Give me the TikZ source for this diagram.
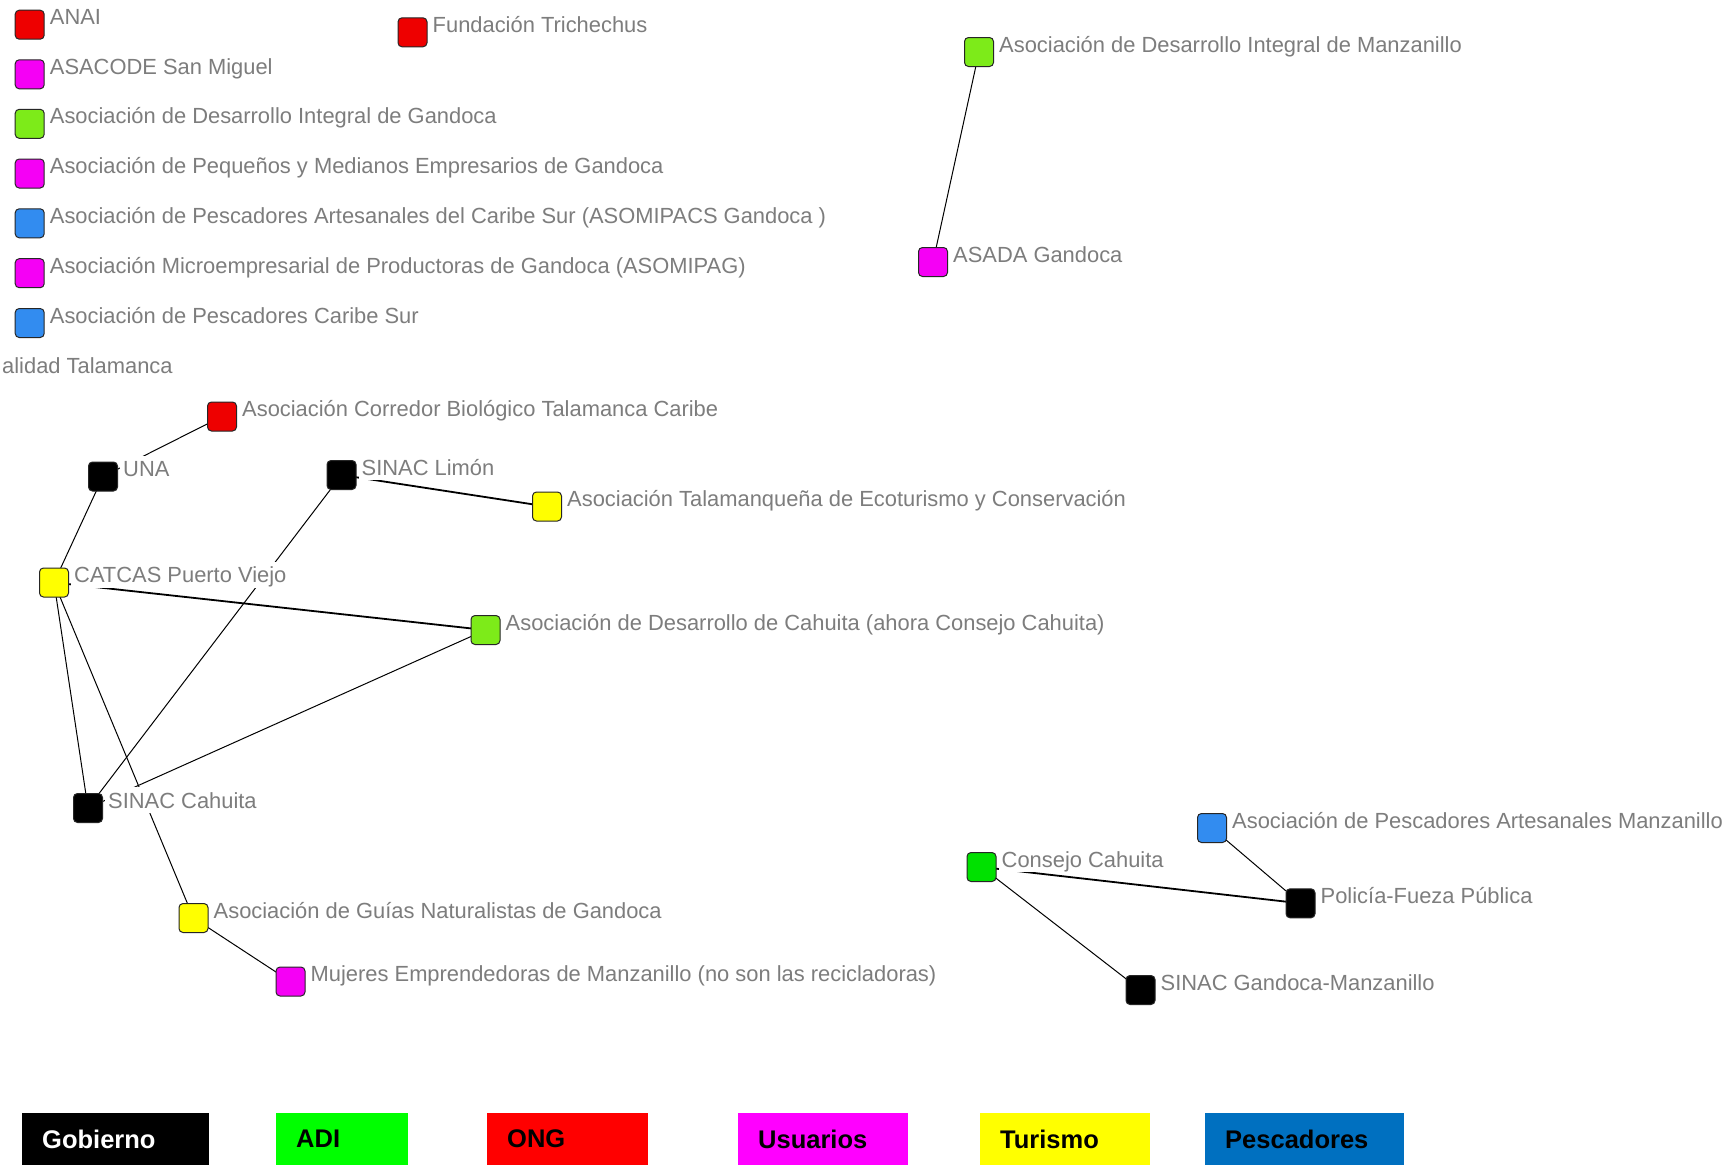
\documentclass[tikz,border=0pt]{standalone}
\usepackage{fontspec}
\setmainfont{Liberation Sans}
\usetikzlibrary{backgrounds}

\definecolor{labelgray}{RGB}{125,125,125}
\definecolor{ongred}{RGB}{238,0,0}
\definecolor{usrmag}{RGB}{245,0,245}
\definecolor{adilime}{RGB}{125,235,25}
\definecolor{adigreen}{RGB}{0,225,0}
\definecolor{pescblue}{RGB}{50,140,240}
\definecolor{turyellow}{RGB}{255,255,0}
\definecolor{keyblue}{RGB}{0,112,192}

\tikzset{
  actor/.style={draw=black!85, line width=1pt, rounded corners=4pt, fill=#1,
    minimum width=29pt, minimum height=29pt, inner sep=0pt},
  lbl/.style={fill=white, text=labelgray, font=\fontsize{21.9}{26}\selectfont,
    text height=20pt, text depth=4pt, inner xsep=3pt, inner ysep=1pt, anchor=base west},
  tie/.style={line width=1pt},
  strongtie/.style={line width=1.8pt},
  key/.style={anchor=north west, minimum height=52pt, inner xsep=20pt, align=left,
    text width=#1, font=\bfseries\fontsize{25.5}{30}\selectfont}
}

\begin{document}
\begin{tikzpicture}[x=1pt,y=-1pt,label distance=2pt]
  \useasboundingbox (0,0) rectangle (1733,1165);
  % isolated actors
  \node[actor=ongred, label={[lbl]east:ANAI}] (anai) at (29.7,24.7) {};
  \node[actor=ongred, label={[lbl]east:Fundación Trichechus}] (trichechus) at (412.5,32.3) {};
  \node[actor=usrmag, label={[lbl]east:ASACODE San Miguel}] (asacode) at (29.7,74.3) {};
  \node[actor=adilime, label={[lbl]east:Asociación de Desarrollo Integral de Gandoca}] (adigandoca) at (29.7,123.8) {};
  \node[actor=usrmag, label={[lbl]east:Asociación de Pequeños y Medianos Empresarios de Gandoca}] (pyme) at (29.7,173.5) {};
  \node[actor=pescblue, label={[lbl]east:Asociación de Pescadores Artesanales del Caribe Sur (ASOMIPACS Gandoca )}] (asomipacs) at (29.7,223.3) {};
  \node[actor=usrmag, label={[lbl]east:Asociación Microempresarial de Productoras de Gandoca (ASOMIPAG)}] (asomipag) at (29.7,273.2) {};
  \node[actor=pescblue, label={[lbl]east:Asociación de Pescadores Caribe Sur}] (pesccs) at (29.7,323) {};
  \node[lbl, inner xsep=0pt] (municipio) at (2,373) {alidad Talamanca};

  % Manzanillo pair
  \node[actor=adilime, label={[lbl]east:Asociación de Desarrollo Integral de Manzanillo}] (adimanz) at (979,52) {};
  \node[actor=usrmag, label={[lbl]east:ASADA Gandoca}] (asada) at (933,262) {};

  % Cahuita / Puerto Viejo group
  \node[actor=ongred, label={[lbl]east:Asociación Corredor Biológico Talamanca Caribe}] (corredor) at (222,416.5) {};
  \node[actor=black, label={[lbl]east:UNA}] (una) at (103,476.5) {};
  \node[actor=black, label={[lbl]east:SINAC Limón}] (sinaclimon) at (341.5,475) {};
  \node[actor=turyellow, label={[lbl]east:Asociación Talamanqueña de Ecoturismo y Conservación}] (atec) at (547,506.5) {};
  \node[actor=turyellow, label={[lbl]east:CATCAS Puerto Viejo}] (catcas) at (54,582.5) {};
  \node[actor=adilime, label={[lbl]east:Asociación de Desarrollo de Cahuita (ahora Consejo Cahuita)}] (adc) at (485.5,630) {};
  \node[actor=black, label={[lbl]east:SINAC Cahuita}] (sinaccahuita) at (88,808) {};
  \node[actor=turyellow, label={[lbl]east:Asociación de Guías Naturalistas de Gandoca}] (guias) at (193.5,918) {};
  \node[actor=usrmag, label={[lbl]east:Mujeres Emprendedoras de Manzanillo (no son las recicladoras)}] (mujeres) at (290.5,981.5) {};

  % Consejo Cahuita group
  \node[actor=pescblue, label={[lbl]east:Asociación de Pescadores Artesanales Manzanillo}] (pescmanz) at (1212,828) {};
  \node[actor=adigreen, label={[lbl]east:Consejo Cahuita}] (consejo) at (981.5,867) {};
  \node[actor=black, label={[lbl]east:Policía-Fueza Pública}] (policia) at (1300.5,903.3) {};
  \node[actor=black, label={[lbl]east:SINAC Gandoca-Manzanillo}] (sinacgm) at (1140.5,990) {};

  % legend
  \node[key=147pt, fill=black, text=white] (kgob) at (22,1113) {Gobierno};
  \node[key=92pt, fill={rgb,255:red,0;green,255;blue,0}] (kadi) at (276,1113) {ADI};
  \node[key=121pt, fill={rgb,255:red,255;green,0;blue,0}] (kong) at (487,1113) {ONG};
  \node[key=130pt, fill={rgb,255:red,255;green,0;blue,255}] (kusr) at (738,1113) {Usuarios};
  \node[key=130pt, fill=turyellow] (ktur) at (980,1113) {Turismo};
  \node[key=159pt, fill=keyblue] (kpesc) at (1205,1113) {Pescadores};

  \begin{pgfonlayer}{background}
    \fill[white] (0,0) rectangle (1733,1165);
    \draw[tie] (adimanz.center) -- (asada.center);
    \draw[tie] (corredor.center) -- (una.center);
    \draw[tie] (una.center) -- (catcas.center);
    \draw[strongtie] (sinaclimon.center) -- (atec.center);
    \draw[tie] (sinaclimon.center) -- (sinaccahuita.center);
    \draw[strongtie] (catcas.center) -- (adc.center);
    \draw[tie] (catcas.center) -- (sinaccahuita.center);
    \draw[tie] (catcas.center) -- (guias.center);
    \draw[tie] (sinaccahuita.center) -- (adc.center);
    \draw[tie] (guias.center) -- (mujeres.center);
    \draw[tie] (pescmanz.center) -- (policia.center);
    \draw[strongtie] (consejo.center) -- (policia.center);
    \draw[tie] (consejo.center) -- (sinacgm.center);
  \end{pgfonlayer}
\end{tikzpicture}
\end{document}
